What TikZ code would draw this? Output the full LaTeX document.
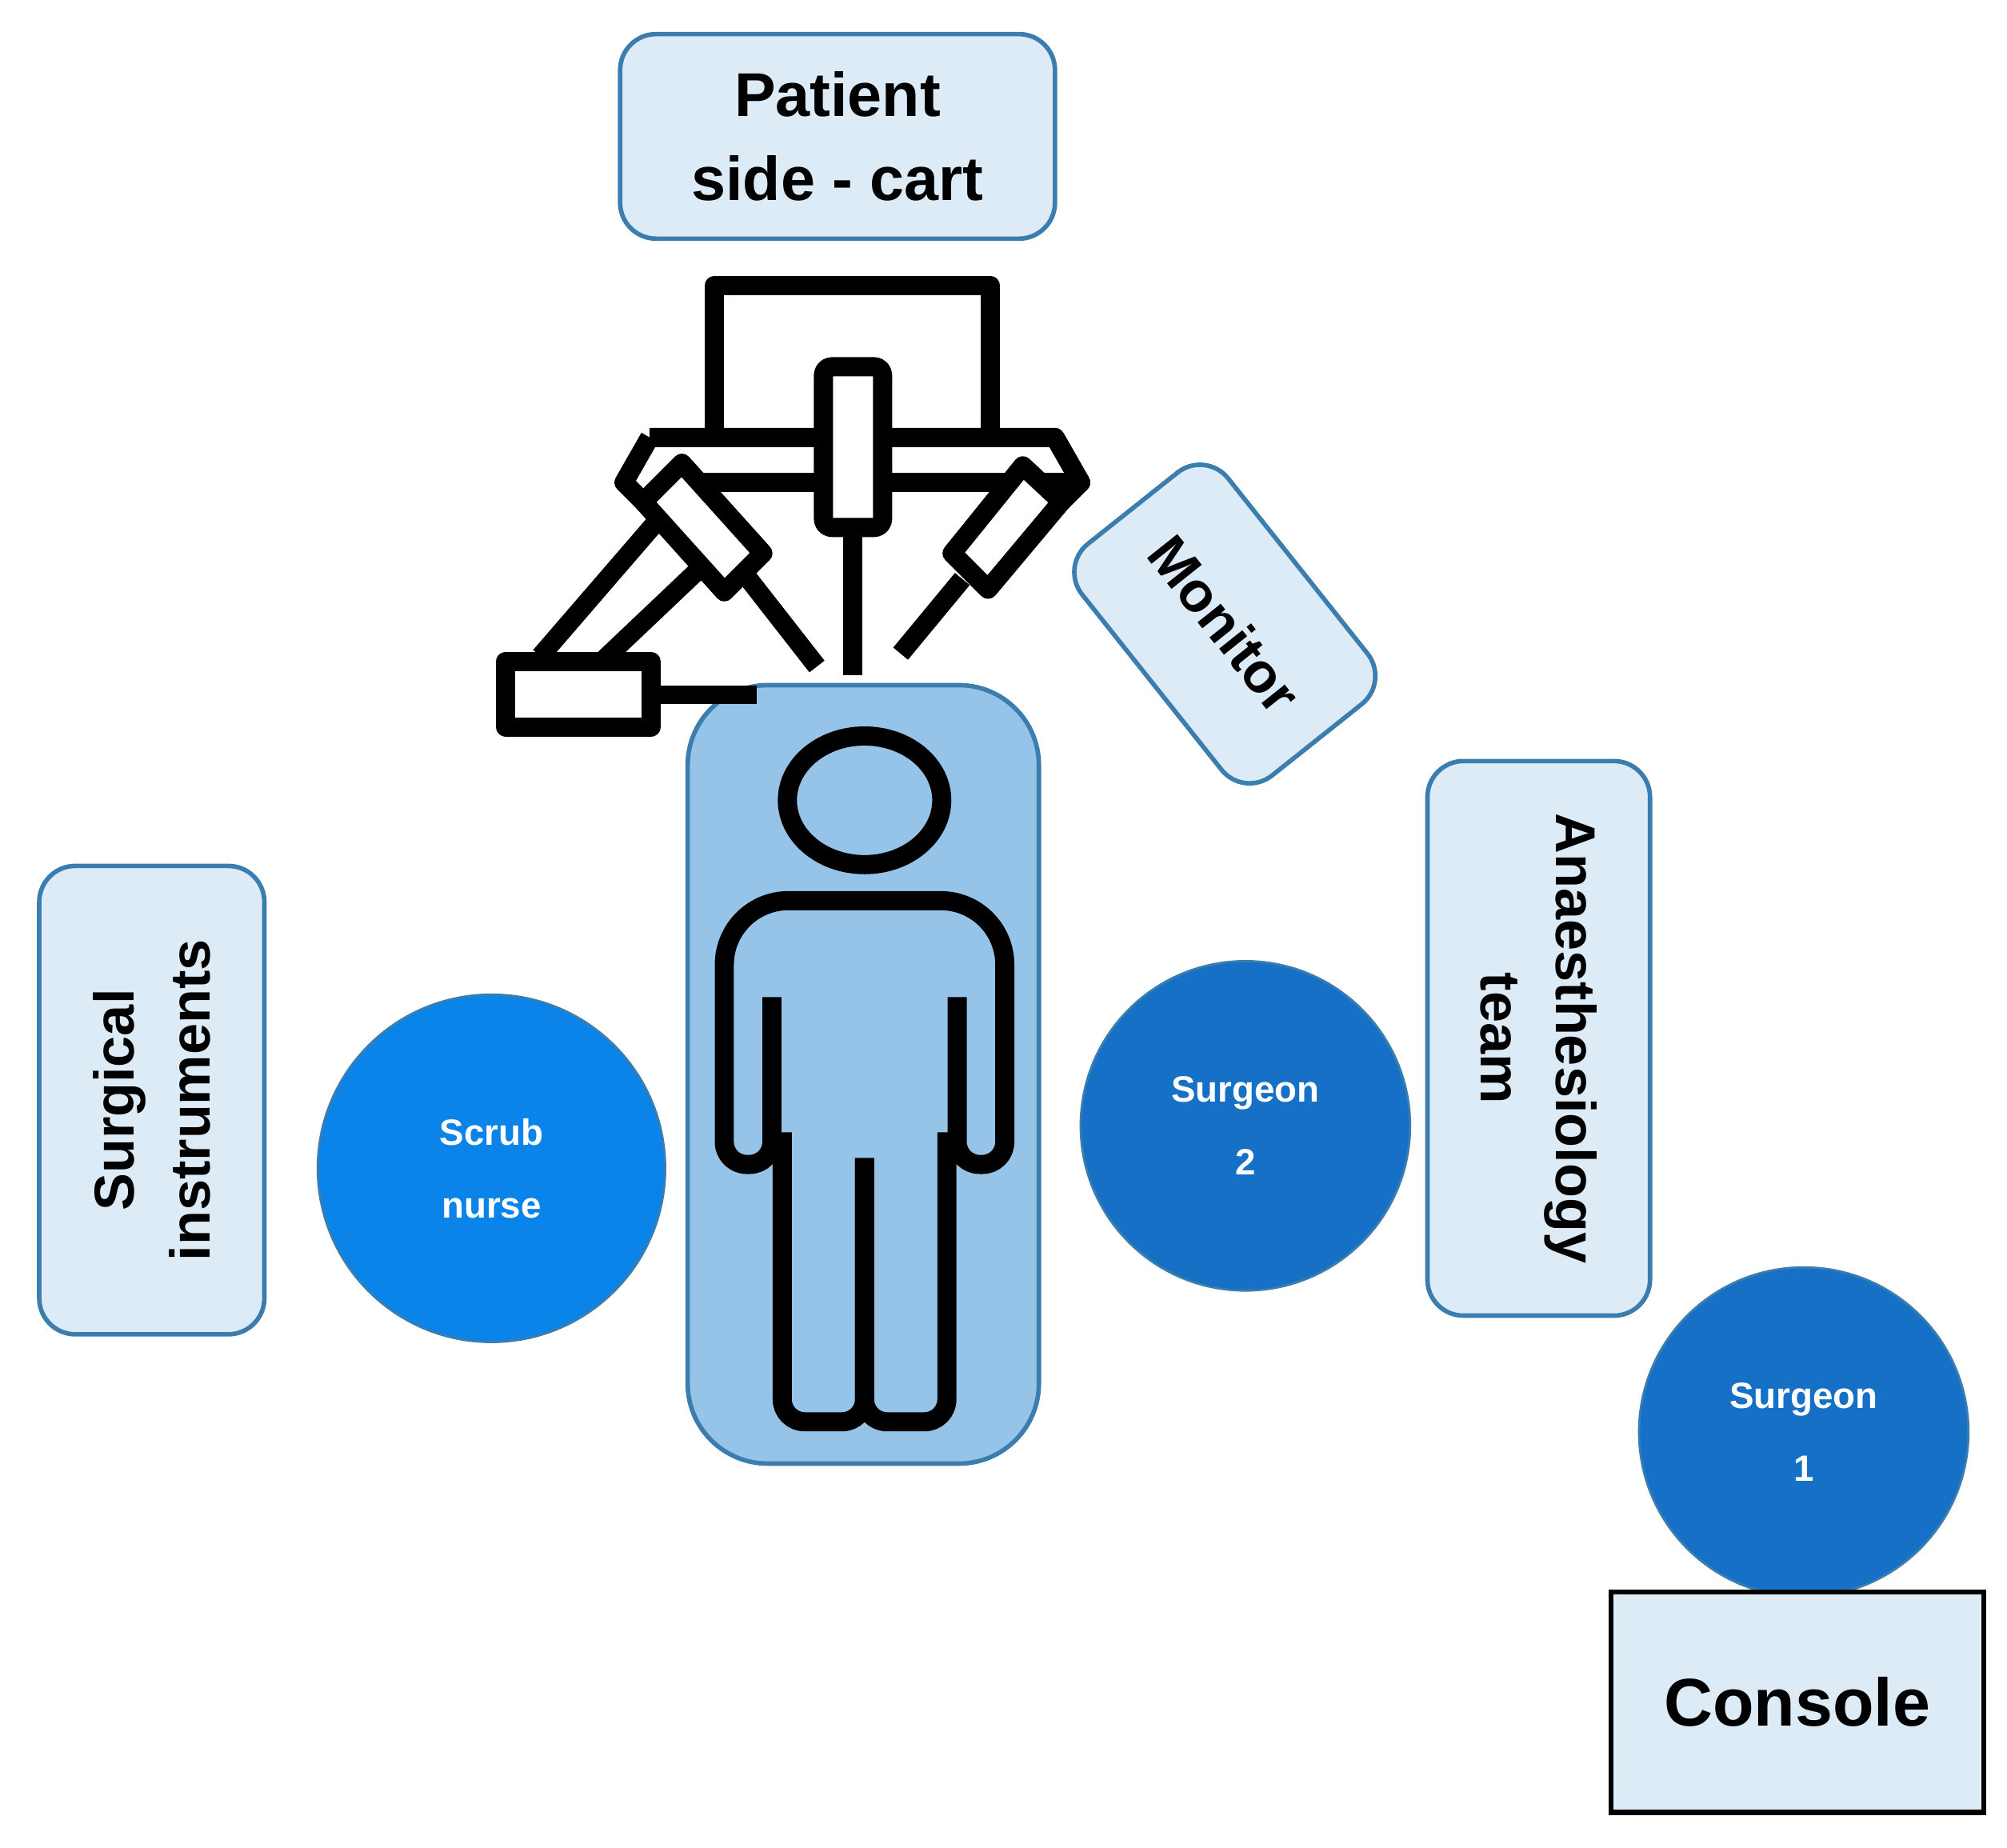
\documentclass[tikz,border=0pt]{standalone}
\usepackage{fontspec}
\setmainfont{Liberation Sans}
\definecolor{lb}{HTML}{DDEBF7}
\definecolor{bd}{HTML}{3A7DAE}
\definecolor{bed}{HTML}{95C4E8}
\definecolor{c1}{HTML}{0A84E8}
\definecolor{c2}{HTML}{1570C6}
\begin{document}
\begin{tikzpicture}[x=0.01608cm,y=-0.01608cm,
  box/.style={draw=bd,line width=1.6pt,fill=lb,rounded corners=0.45cm,inner sep=0pt,align=center,font=\bfseries},
  circ/.style={circle,draw=bd,line width=0.8pt,inner sep=0pt,text=white,align=center,font=\bfseries\fontsize{13}{26}\selectfont},
  icon/.style={line width=6.8pt,draw=black,line join=round}]
\useasboundingbox (0,0) rectangle (1560,1436);
% patient side-cart
\node[box,minimum width=338*0.01608cm,minimum height=159*0.01608cm,font=\bfseries\fontsize{22}{30}\selectfont] (cart) at (651,106) {Patient\\ side - cart};
% bed
\node[draw=bd,line width=1.6pt,fill=bed,rounded corners=1cm,minimum width=273*0.01608cm,minimum height=605*0.01608cm] (bed) at (671,835) {};
% robot icon
\draw[icon] (555,340) -- (555,222) -- (770,222) -- (770,340);
\draw[icon] (505,340) -- (820,340) -- (840,375) -- (805,375) -- (780,375);
\draw[icon] (540,375) -- (790,375);
\draw[icon,fill=white,rounded corners=3pt] (640,285) rectangle (686,410);
\draw[icon] (663,410) -- (663,525);
% left arm
\draw[icon] (505,340) -- (485,375) -- (500,390);
\draw[icon,fill=white] (500,390) -- (530,360) -- (593,430) -- (563,460) -- cycle;
\draw[icon] (578,445) -- (635,518);
\draw[icon] (515,400) -- (420,510);
\draw[icon] (548,438) -- (470,512);
\draw[icon,fill=white] (393,514) rectangle (506,565);
\draw[icon] (506,540) -- (588,540);
% right arm
\draw[icon] (820,340) -- (840,375) -- (825,390);
\draw[icon,fill=white] (825,390) -- (795,362) -- (740,430) -- (768,458) -- cycle;
\draw[icon] (748,450) -- (700,508);
% person
\draw[icon] (672,622) ellipse (60 and 50);
\foreach \s in {1,-1}{
  \begin{scope}[xshift={(1-\s)*672*0.01608cm},xscale=\s]
  \draw[icon] (672,700) [rounded corners=0.8cm] -- (563,700) [rounded corners=0.28cm] -- (563,905) -- (600,905) [sharp corners] -- (600,775);
  \draw[icon] (608,880) [rounded corners=0.28cm] -- (608,1105) -- (672,1105) [sharp corners] -- (672,900);
  \end{scope}}
% monitor
\node[box,rotate=-51.5,minimum width=230*0.01608cm,minimum height=145*0.01608cm,font=\bfseries\fontsize{20}{24}\selectfont] (mon) at (952,485) {Monitor};
% surgical instruments
\node[box,rotate=90,minimum width=364*0.01608cm,minimum height=175*0.01608cm,font=\bfseries\fontsize{20}{27}\selectfont] (inst) at (118,855) {Surgical\\ instruments};
% anaesthesiology
\node[box,rotate=-90,minimum width=431*0.01608cm,minimum height=173*0.01608cm,font=\bfseries\fontsize{20}{27}\selectfont] (anae) at (1196,807) {Anaesthesiology\\ team};
% circles
\node[circ,fill=c1,minimum size=270*0.01608cm] (nurse) at (382,908) {Scrub\\ nurse};
\node[circ,fill=c2,minimum size=256*0.01608cm] (s2) at (968,875) {Surgeon\\ 2};
\node[circ,fill=c2,minimum size=256*0.01608cm] (s1) at (1402,1113) {Surgeon\\ 1};
% console
\node[draw=black,line width=1.8pt,fill=lb,minimum width=290*0.01608cm,minimum height=171*0.01608cm,font=\bfseries\fontsize{24}{28}\selectfont] (con) at (1397,1323) {Console};
\end{tikzpicture}
\end{document}
